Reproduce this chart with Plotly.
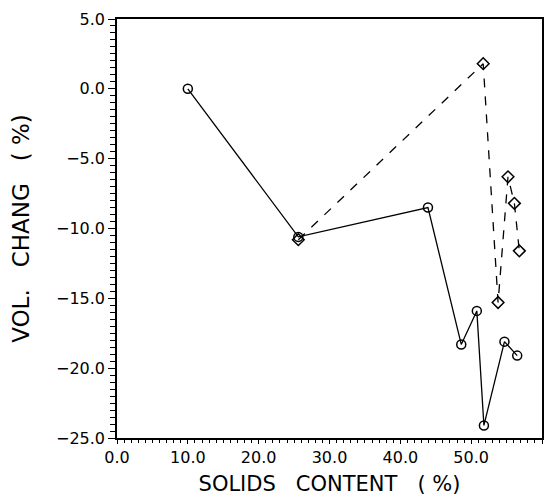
import plotly.graph_objects as go

# Series 1: circles, solid line
solid_x = [10.0, 25.6, 43.9, 48.6, 50.8, 51.8, 54.7, 56.5]
solid_y = [0.0, -10.6, -8.5, -18.3, -15.9, -24.1, -18.1, -19.1]

# Series 2: diamonds, dashed line
dash_x = [25.6, 51.7, 53.8, 55.2, 56.1, 56.8]
dash_y = [-10.8, 1.8, -15.3, -6.3, -8.2, -11.6]

x_ticks = [0, 10, 20, 30, 40, 50, 60]
y_ticks = [5, 0, -5, -10, -15, -20, -25]

fnt = "DejaVu Sans"

fig = go.Figure()
fig.add_trace(go.Scatter(
    x=dash_x, y=dash_y, mode="lines+markers",
    line=dict(color="black", width=1.3, dash="dash"),
    marker=dict(symbol="diamond-open", size=9, color="black", line=dict(width=1.5)),
    showlegend=False))
fig.add_trace(go.Scatter(
    x=solid_x, y=solid_y, mode="lines+markers",
    line=dict(color="black", width=1.3),
    marker=dict(symbol="circle-open", size=9, color="black", line=dict(width=1.5)),
    showlegend=False))

fig.update_layout(
    width=549, height=492,
    margin=dict(l=109, r=15, t=11, b=62),
    plot_bgcolor="white", paper_bgcolor="white",
    font=dict(family=fnt, color="black", size=16),
    xaxis=dict(
        range=[0, 60], tickvals=x_ticks, ticktext=[f"{v:.1f}" for v in x_ticks],
        tickfont=dict(family=fnt, size=16, color="black"),
        showgrid=False, zeroline=False, showline=True, linecolor="black", linewidth=1.5,
        mirror=True, ticks="outside", ticklen=4, tickwidth=1, tickcolor="black",
        minor=dict(dtick=1, ticks="outside", ticklen=3, tickcolor="black", showgrid=False),
        title=dict(text="SOLIDS   CONTENT   ( %)", font=dict(family=fnt, size=21), standoff=10),
        automargin=False,
    ),
    yaxis=dict(
        range=[-25, 5], tickvals=y_ticks,
        ticktext=[f"{v:.1f}".replace("-", "\u2212") for v in y_ticks],
        tickfont=dict(family=fnt, size=16, color="black"),
        showgrid=False, zeroline=False, showline=True, linecolor="black", linewidth=1.5,
        mirror=True, ticks="outside", ticklen=7, tickwidth=1, tickcolor="black",
        minor=dict(dtick=0.5, ticks="outside", ticklen=5, tickcolor="black", showgrid=False),
        title=dict(text="VOL.   CHANG   ( %)", font=dict(family=fnt, size=23), standoff=22),
        automargin=False,
    ),
)

fig.write_html("out.html")
